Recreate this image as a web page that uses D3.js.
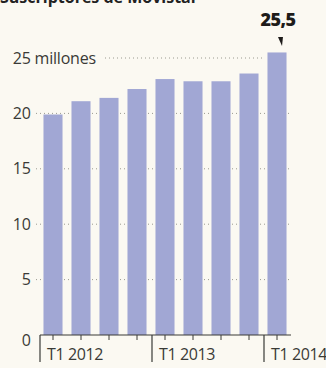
<!DOCTYPE html>
<html><head><meta charset="utf-8">
<script src="https://cdn.jsdelivr.net/npm/d3@7"></script>
<style>
html,body{margin:0;padding:0;background:#fbf9f2;}
svg{display:block;font-family:"Open Sans",sans-serif;}
</style></head>
<body><svg id="c" width="326" height="368"></svg>
<script>
const quarters = ["T1 2012","T2 2012","T3 2012","T4 2012","T1 2013","T2 2013","T3 2013","T4 2013","T1 2014"];
const subscribers = [19.9, 21.1, 21.4, 22.2, 23.1, 22.9, 22.9, 23.6, 25.5];
const yTicks = [0, 5, 10, 15, 20, 25];
const yearLabels = ["T1 2012","T1 2013","T1 2014"];
const highlightLabel = "25,5";
const titleText = "Suscriptores de Movistar";

const svg = d3.select("#c");
const x = d3.scaleBand().domain(quarters).range([39, 291]).paddingInner(0.32).paddingOuter(0.16);
const y = d3.scaleLinear().domain([0, 25]).range([335, 58]);
const gap = (x.step() - x.bandwidth()) / 2;

// title (cut off at top, as in the reference)
svg.append("text").attr("x", 0).attr("y", 3).attr("font-size", 16).attr("font-weight", 700)
  .attr("fill", "#222").text(titleText);

// gridlines
const grid = svg.append("g");
yTicks.filter(t => t > 0 && t < 25).forEach(t => {
  grid.append("line").attr("x1", 36).attr("x2", 291).attr("y1", y(t)).attr("y2", y(t))
    .attr("stroke", "#9a9a90").attr("stroke-width", 1).attr("stroke-dasharray", "1,3");
});
grid.append("line").attr("x1", 105).attr("x2", 263).attr("y1", y(25)).attr("y2", y(25))
  .attr("stroke", "#9a9a90").attr("stroke-width", 1).attr("stroke-dasharray", "1,3");

// bars
svg.append("g").selectAll("rect").data(subscribers).join("rect")
  .attr("x", (d, i) => x(quarters[i])).attr("width", x.bandwidth())
  .attr("y", d => y(d)).attr("height", d => y(0) - y(d))
  .attr("fill", "#a1a7d4");

// y labels
const yl = svg.append("g").attr("font-size", 16).attr("fill", "#3a3a36");
yTicks.forEach(t => {
  if (t === 25) {
    const tx = yl.append("text").attr("x", 31).attr("y", y(t)).attr("dy", "0.35em").text(t);
    const w = tx.node().getComputedTextLength();
    tx.attr("x", 31 - w).attr("letter-spacing", -0.2);
    tx.text(t + " millones");
  } else {
    yl.append("text").attr("x", 31).attr("y", t === 0 ? y(t) + 5 : y(t)).attr("dy", "0.35em")
      .attr("text-anchor", "end").text(t);
  }
});

// x axis
const ax = svg.append("g").attr("stroke", "#3a3a36");
ax.append("line").attr("x1", 40).attr("x2", 291).attr("y1", y(0)).attr("y2", y(0)).attr("stroke-width", 1.2);
quarters.forEach((q, i) => {
  const cx = x(q) + x.bandwidth() / 2;
  ax.append("line").attr("x1", cx).attr("x2", cx).attr("y1", y(0)).attr("y2", y(0) + 5).attr("stroke-width", 1);
});
const xl = svg.append("g").attr("font-size", 16).attr("fill", "#3a3a36");
yearLabels.forEach(l => {
  const bx = x(l) - gap + 1;
  ax.append("line").attr("x1", bx).attr("x2", bx).attr("y1", y(0)).attr("y2", 362).attr("stroke-width", 1.2);
  xl.append("text").attr("x", bx + 7).attr("y", 360).attr("letter-spacing", -0.4).text(l);
});

// highlight annotation
const last = quarters[quarters.length - 1];
const hx = x(last) + x.bandwidth() / 2;
svg.append("text").attr("x", hx + 1).attr("y", 26).attr("text-anchor", "middle")
  .attr("font-size", 18).attr("font-weight", 800).attr("fill", "#1e1c1a").attr("letter-spacing", -0.6)
  .text(highlightLabel);
svg.append("path")
  .attr("d", `M${hx+1},37 L${hx+6},37 L${hx+5},46 Z`)
  .attr("fill", "#1e1c1a");
</script></body></html>
